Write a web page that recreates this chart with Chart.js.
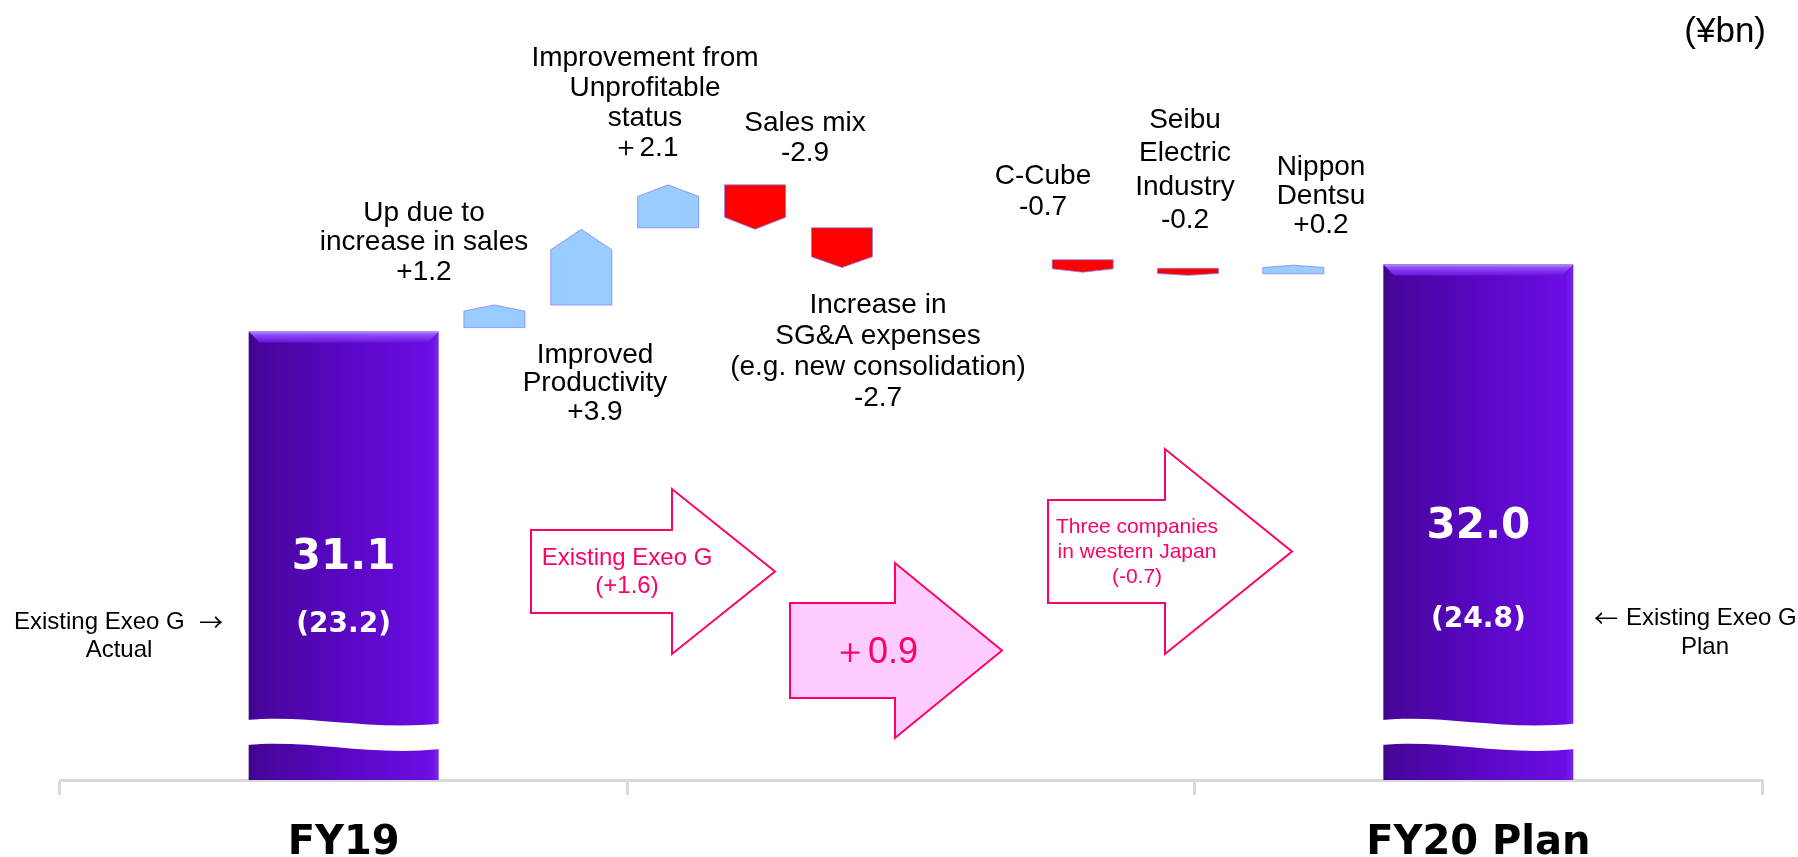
<!DOCTYPE html>
<html>
<head>
<meta charset="utf-8">
<title>FY19 → FY20 Plan</title>
<script src="https://cdn.jsdelivr.net/npm/chart.js@4.4.1/dist/chart.umd.min.js"></script>
<style>
    html, body { margin: 0; padding: 0; background: #ffffff; }
    #wrap { width: 1798px; height: 857px; }
</style>
</head>
<body>
<div id="wrap"><canvas id="bridge" width="1798" height="857"></canvas></div>
<script>
const totalLabels = ['FY19', '', 'FY20 Plan'];
const totalValues = [31.1, null, 32.0];
const existingValues = [23.2, null, 24.8];
// hauteur dessinée (axe coupé, le schéma n'est pas à l'échelle)
const totalLevels = [57.5, null, 66.1];

const stepNames = [
    'Up due to\nincrease in sales',
    'Improved\nProductivity',
    'Improvement from\nUnprofitable\nstatus',
    'Sales mix',
    'Increase in\nSG&A expenses\n(e.g. new consolidation)',
    'C-Cube',
    'Seibu\nElectric\nIndustry',
    'Nippon\nDentsu'
];
const stepValues = [1.2, 3.9, 2.1, -2.9, -2.7, -0.7, -0.2, 0.2];
const stepValueText = ['+1.2', '+3.9', '＋2.1', '-2.9', '-2.7', '-0.7', '-0.2', '+0.2'];
const stepIndex = [1, 2, 3, 4, 5, 6, 7, 8];
// niveaux de départ / d'arrivée tels que dessinés
const stepFrom = [58.0, 60.9, 70.8, 76.3, 70.8, 66.7, 65.6, 64.9];
const stepTo = [60.9, 70.6, 76.3, 70.6, 65.7, 65.1, 64.7, 66.0];

// Groupe existant (1-5) et trois sociétés de l'ouest (6-8)
const groupA = [0, 1, 2, 3, 4];
const groupB = [5, 6, 7];

const PINK = '#ff0066';
const SANS = '"Liberation Sans", Arial, sans-serif';
const BOLD = '"DejaVu Sans", Verdana, sans-serif';
const CJK = '"Noto Sans CJK JP", sans-serif';

// Placement des étiquettes (centre x, centre de la 1re ligne, interligne)
const stepLabelLayout = [
    { x: 424, y: 213, lh: 29.5 },
    { x: 595, y: 355, lh: 28.5 },
    { x: 645, y: 58, lh: 30 },
    { x: 805, y: 123, lh: 30 },
    { x: 878, y: 305, lh: 31 },
    { x: 1043, y: 176, lh: 31 },
    { x: 1185, y: 120, lh: 33.5 },
    { x: 1321, y: 167, lh: 29 }
];
const totalTextLayout = [
    { value: 558, existing: 625 },
    null,
    { value: 527, existing: 620 }
];

function stepPoints(idx) {
    return idx.map(i => ({ x: stepIndex[i], y: [stepFrom[i], stepTo[i]] }));
}

// Dessin d'une grande barre violette avec coupure
function drawTotalBar(ctx, bar) {
    const w = bar.width;
    const L = bar.x - w / 2, R = bar.x + w / 2;
    const top = bar.y, bottom = bar.base;

    const g = ctx.createLinearGradient(L, 0, R, 0);
    g.addColorStop(0, '#3c0584');
    g.addColorStop(0.04, '#47069a');
    g.addColorStop(0.5, '#5907c3');
    g.addColorStop(0.96, '#6c0de4');
    g.addColorStop(1, '#7a26ee');
    ctx.fillStyle = g;
    ctx.fillRect(L, top, w, bottom - top);

    // biseau du haut
    const b = 11;
    const gb = ctx.createLinearGradient(0, top, 0, top + b);
    gb.addColorStop(0, '#b592fa');
    gb.addColorStop(0.3, '#904cf5');
    gb.addColorStop(1, '#6a14de');
    ctx.beginPath();
    ctx.moveTo(L, top);
    ctx.lineTo(R, top);
    ctx.lineTo(R - b, top + b);
    ctx.lineTo(L + b, top + b);
    ctx.closePath();
    ctx.fillStyle = gb;
    ctx.fill();

    // bande blanche ondulée (axe coupé)
    const y1 = bottom - 60;
    ctx.beginPath();
    ctx.moveTo(L - 2, y1);
    ctx.bezierCurveTo(L + w * 0.33, y1 - 6, L + w * 0.62, y1 + 11, R + 2, y1 + 3.5);
    ctx.lineTo(R + 2, y1 + 29);
    ctx.bezierCurveTo(L + w * 0.62, y1 + 36.5, L + w * 0.33, y1 + 19, L - 2, y1 + 25);
    ctx.closePath();
    ctx.fillStyle = '#ffffff';
    ctx.fill();
}

// Dessin d'une marche en forme de flèche (pentagone)
function drawStepBar(ctx, bar, up) {
    const L = bar.x - bar.width / 2, R = bar.x + bar.width / 2;
    const top = bar.y, bottom = bar.base;
    const tip = (bottom - top) * 0.27;
    ctx.beginPath();
    if (up) {
        ctx.moveTo(L, bottom);
        ctx.lineTo(L, top + tip);
        ctx.lineTo(bar.x, top);
        ctx.lineTo(R, top + tip);
        ctx.lineTo(R, bottom);
    } else {
        ctx.moveTo(L, top);
        ctx.lineTo(R, top);
        ctx.lineTo(R, bottom - tip);
        ctx.lineTo(bar.x, bottom);
        ctx.lineTo(L, bottom - tip);
    }
    ctx.closePath();
    ctx.fillStyle = up ? '#99ccff' : '#ff0000';
    ctx.fill();
    ctx.lineWidth = 1;
    ctx.strokeStyle = 'rgba(120, 130, 255, 0.75)';
    ctx.stroke();
}

function drawBlockArrow(ctx, a) {
    ctx.beginPath();
    ctx.moveTo(a.left, a.bodyTop);
    ctx.lineTo(a.headX, a.bodyTop);
    ctx.lineTo(a.headX, a.headTop);
    ctx.lineTo(a.tipX, a.tipY);
    ctx.lineTo(a.headX, a.headBottom);
    ctx.lineTo(a.headX, a.bodyBottom);
    ctx.lineTo(a.left, a.bodyBottom);
    ctx.closePath();
    ctx.fillStyle = a.fill;
    ctx.fill();
    ctx.lineWidth = 2;
    ctx.strokeStyle = PINK;
    ctx.stroke();
}

function drawLines(ctx, lines, x, y, lh) {
    lines.forEach((t, k) => ctx.fillText(t, x, y + k * lh));
}

const bridgeShapes = {
    id: 'bridgeShapes',
    beforeDatasetDraw(chart, args) {
        const ctx = chart.ctx;
        const ds = chart.data.datasets[args.index];
        ctx.save();
        args.meta.data.forEach((bar, i) => {
            const raw = ds.data[i];
            if (raw === null || raw === undefined) return;
            if (ds.kind === 'total') {
                drawTotalBar(ctx, bar);
            } else {
                drawStepBar(ctx, bar, stepValues[ds.steps[i]] > 0);
            }
        });
        ctx.restore();
        return false;
    }
};

const bridgeText = {
    id: 'bridgeText',
    afterDraw(chart) {
        const ctx = chart.ctx;
        ctx.save();
        ctx.textAlign = 'center';
        ctx.textBaseline = 'middle';

        // étiquettes des marches
        ctx.fillStyle = '#000000';
        ctx.font = '28px ' + SANS;
        stepNames.forEach((name, i) => {
            const pos = stepLabelLayout[i];
            drawLines(ctx, name.split('\n').concat(stepValueText[i]), pos.x, pos.y, pos.lh);
        });

        // valeurs dans les grandes barres
        const meta = chart.getDatasetMeta(0);
        ctx.fillStyle = '#ffffff';
        totalValues.forEach((v, i) => {
            if (v === null) return;
            const bar = meta.data[i];
            ctx.font = 'bold 42px ' + BOLD;
            ctx.fillText(v.toFixed(1), bar.x, totalTextLayout[i].value);
            ctx.font = 'bold 28px ' + BOLD;
            ctx.fillText('(' + existingValues[i].toFixed(1) + ')', bar.x, totalTextLayout[i].existing);
        });

        // renvois latéraux
        ctx.fillStyle = '#000000';
        ctx.font = '24px ' + SANS;
        ctx.textAlign = 'left';
        ctx.fillText('Existing Exeo G', 14, 622);
        ctx.fillText('Existing Exeo G', 1626, 618);
        ctx.font = '24px ' + CJK;
        ctx.fillText('→', 199, 622);
        ctx.fillText('←', 1594, 618);
        ctx.font = '24px ' + SANS;
        ctx.textAlign = 'center';
        ctx.fillText('Actual', 119, 650);
        ctx.fillText('Plan', 1705, 647);

        // unité
        ctx.textAlign = 'right';
        ctx.font = '35px ' + SANS;
        ctx.fillText('(¥bn)', 1766, 32);

        // flèches roses
        drawBlockArrow(ctx, { left: 531, bodyTop: 530, bodyBottom: 613, headX: 672, headTop: 489, headBottom: 654, tipX: 775, tipY: 571.5, fill: '#ffffff' });
        drawBlockArrow(ctx, { left: 790, bodyTop: 603, bodyBottom: 698, headX: 895, headTop: 563, headBottom: 738, tipX: 1002, tipY: 650.5, fill: '#ffccff' });
        drawBlockArrow(ctx, { left: 1048, bodyTop: 500, bodyBottom: 603, headX: 1165, headTop: 449, headBottom: 654, tipX: 1292, tipY: 551.5, fill: '#ffffff' });

        ctx.textAlign = 'center';
        ctx.fillStyle = PINK;
        ctx.font = '24px ' + SANS;
        drawLines(ctx, ['Existing Exeo G', '(+1.6)'], 627, 558, 28.5);
        ctx.font = '36px ' + SANS;
        ctx.fillText('＋0.9', 875, 653);
        ctx.font = '21px ' + SANS;
        drawLines(ctx, ['Three companies', 'in western Japan', '(-0.7)'], 1137, 527, 25);

        ctx.restore();
    }
};

const chart = new Chart(document.getElementById('bridge').getContext('2d'), {
    type: 'bar',
    data: {
        labels: totalLabels,
        datasets: [
            {
                label: 'Total',
                kind: 'total',
                xAxisID: 'x',
                data: totalLevels,
                grouped: false,
                barThickness: 190,
                backgroundColor: '#5907c3'
            },
            {
                label: 'Existing Exeo G',
                kind: 'step',
                steps: groupA,
                xAxisID: 'xa',
                data: stepPoints(groupA),
                grouped: false,
                barThickness: 61
            },
            {
                label: 'Three companies in western Japan',
                kind: 'step',
                steps: groupB,
                xAxisID: 'xb',
                data: stepPoints(groupB),
                grouped: false,
                barThickness: 61
            }
        ]
    },
    options: {
        responsive: false,
        animation: false,
        events: [],
        layout: {
            padding: { left: 60, right: 36, top: 0, bottom: -36 }
        },
        plugins: {
            legend: { display: false },
            title: { display: false },
            tooltip: { enabled: false }
        },
        scales: {
            x: {
                type: 'category',
                z: 1,
                offset: true,
                grid: {
                    display: true,
                    offset: true,
                    drawOnChartArea: false,
                    drawTicks: true,
                    tickLength: 15,
                    color: '#d9d9d9',
                    lineWidth: 3
                },
                border: { display: true, color: '#d9d9d9', width: 3 },
                ticks: {
                    color: '#000000',
                    padding: 29,
                    maxRotation: 0,
                    autoSkip: false,
                    font: { family: 'DejaVu Sans', size: 40, weight: 'bold', lineHeight: 1 }
                }
            },
            xa: {
                type: 'linear',
                display: false,
                offset: false,
                min: -4.0,
                max: 15.59,
                grid: { offset: false }
            },
            xb: {
                type: 'linear',
                display: false,
                offset: false,
                min: -3.71,
                max: 12.45,
                grid: { offset: false }
            },
            y: {
                display: false,
                min: 0,
                max: 100
            }
        }
    },
    plugins: [bridgeShapes, bridgeText]
});
</script>
</body>
</html>
